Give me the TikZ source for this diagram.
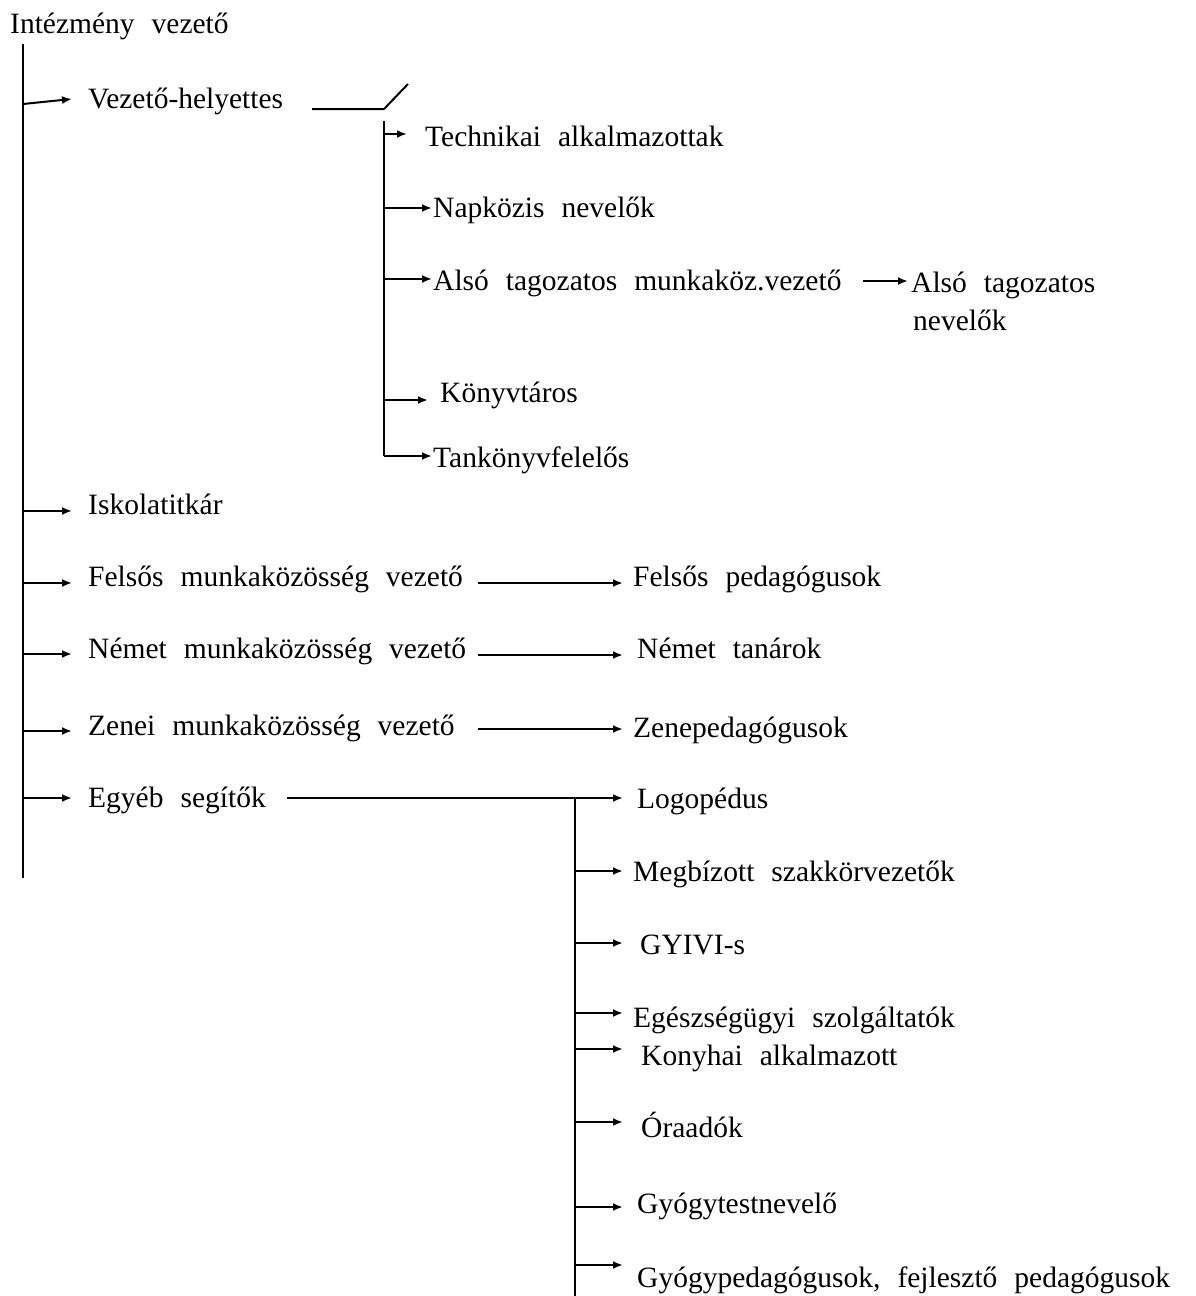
\documentclass[tikz,border=0pt]{standalone}
\usepackage{fontspec}
\setmainfont{Liberation Serif}[WordSpace=2.3]
\usetikzlibrary{arrows.meta}
\begin{document}
\begin{tikzpicture}[x=1pt,y=-1pt,
  lbl/.style={anchor=base west,inner sep=0pt,font=\fontsize{29.5}{34}\selectfont},
  ln/.style={line width=2pt},
  arr/.style={ln,-{Latex[length=10pt,width=8pt]}}]
\useasboundingbox (0,0) rectangle (1195,1296);

% ---- labels ----
\node[lbl] (iv)  at (10,33)   {Intézmény vezető};
\node[lbl] (vh)  at (88,108)  {Vezető-helyettes};
\node[lbl] (ta)  at (425,146) {Technikai alkalmazottak};
\node[lbl] (nn)  at (433,217) {Napközis nevelők};
\node[lbl] (at)  at (433,290) {Alsó tagozatos munkaköz.vezető};
\node[lbl] (atn) at (911,292) {Alsó tagozatos};
\node[lbl] (atn2) at (913,330) {nevelők};
\node[lbl] (kv)  at (440,402) {Könyvtáros};
\node[lbl] (tk)  at (433,467) {Tankönyvfelelős};
\node[lbl] (isk) at (88,514)  {Iskolatitkár};
\node[lbl] (fel) at (88,586)  {Felsős munkaközösség vezető};
\node[lbl] (nem) at (88,658)  {Német munkaközösség vezető};
\node[lbl] (zen) at (88,735)  {Zenei munkaközösség vezető};
\node[lbl] (egy) at (88,807)  {Egyéb segítők};
\node[lbl] (felp) at (633,586) {Felsős pedagógusok};
\node[lbl] (nemt) at (637,658) {Német tanárok};
\node[lbl] (zenp) at (633,737) {Zenepedagógusok};
\node[lbl] (log) at (637,808)  {Logopédus};
\node[lbl] (meg) at (633,881)  {Megbízott szakkörvezetők};
\node[lbl] (gyi) at (640,954)  {GYIVI-s};
\node[lbl] (ege) at (633,1027) {Egészségügyi szolgáltatók};
\node[lbl] (kon) at (641,1065) {Konyhai alkalmazott};
\node[lbl] (ora) at (641,1137) {Óraadók};
\node[lbl] (gyt) at (637,1213) {Gyógytestnevelő};
\node[lbl] (gyp) at (637,1287) {Gyógypedagógusok, fejlesztő pedagógusok};

% ---- main spine ----
\coordinate (sTop) at (23,44);
\coordinate (sBot) at (23,878);
\draw[ln] (sTop) -- (sBot);

\coordinate (pvh) at (72,99);
\coordinate (pisk) at (72,511);
\coordinate (pfel) at (72,583);
\coordinate (pnem) at (72,654);
\coordinate (pzen) at (72,731);
\coordinate (pegy) at (72,798);
\draw[arr] (23,104) -- (pvh);
\draw[arr] (sTop|-pisk) -- (pisk);
\draw[arr] (sTop|-pfel) -- (pfel);
\draw[arr] (sTop|-pnem) -- (pnem);
\draw[arr] (sTop|-pzen) -- (pzen);
\draw[arr] (sTop|-pegy) -- (pegy);

% ---- deputy branch ----
\coordinate (vhA) at (312,109);
\coordinate (vhB) at (384,109);
\coordinate (vhC) at (408,84);
\draw[ln] (vhA) -- (vhB) -- (vhC);

\coordinate (dTop) at (384,121);
\coordinate (dBot) at (384,456);
\draw[ln] (dTop) -- (dBot);
\coordinate (pta) at (407,134);
\coordinate (pnn) at (432,208);
\coordinate (pat) at (432,279);
\coordinate (pkv) at (428,400);
\coordinate (ptk) at (432,456);
\draw[arr] (dTop|-pta) -- (pta);
\draw[arr] (dTop|-pnn) -- (pnn);
\draw[arr] (dTop|-pat) -- (pat);
\draw[arr] (dTop|-pkv) -- (pkv);
\draw[arr] (dBot) -- (ptk);

\coordinate (atA) at (863,281);
\coordinate (atB) at (908,281);
\draw[arr] (atA) -- (atB);

% ---- leaders to staff ----
\coordinate (fA) at (478,583);
\coordinate (fB) at (623,583);
\draw[arr] (fA) -- (fB);
\coordinate (nA) at (478,655);
\coordinate (nB) at (623,655);
\draw[arr] (nA) -- (nB);
\coordinate (zA) at (478,729);
\coordinate (zB) at (623,729);
\draw[arr] (zA) -- (zB);

% ---- other helpers branch ----
\coordinate (eA) at (287,798);
\coordinate (eB) at (623,798);
\draw[arr] (eA) -- (eB);
\coordinate (hTop) at (575,798);
\coordinate (hBot) at (575,1296);
\draw[ln] (hTop) -- (hBot);
\coordinate (pmeg) at (623,871);
\coordinate (pgyi) at (623,943);
\coordinate (pege) at (623,1013);
\coordinate (pkon) at (623,1049);
\coordinate (pora) at (623,1122);
\coordinate (pgyt) at (623,1207);
\coordinate (pgyp) at (623,1265);
\draw[arr] (hTop|-pmeg) -- (pmeg);
\draw[arr] (hTop|-pgyi) -- (pgyi);
\draw[arr] (hTop|-pege) -- (pege);
\draw[arr] (hTop|-pkon) -- (pkon);
\draw[arr] (hTop|-pora) -- (pora);
\draw[arr] (hTop|-pgyt) -- (pgyt);
\draw[arr] (hTop|-pgyp) -- (pgyp);
\end{tikzpicture}
\end{document}
